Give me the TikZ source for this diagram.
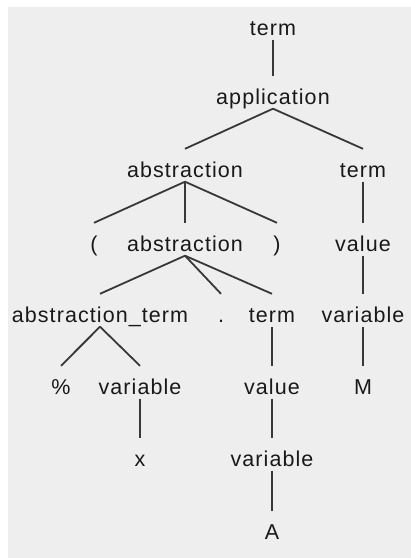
\documentclass[tikz,border=0pt]{standalone}
\usepackage{fontspec}
\setmainfont[LetterSpace=5]{Liberation Sans}
\begin{document}
\begin{tikzpicture}[x=1pt,y=-1pt,
  mot/.style={inner sep=0pt,anchor=base,text height=28pt,text depth=4.5pt,font=\fontsize{21.5}{26}\selectfont,text=black!90},
  branche/.style={draw=black!78,line width=1.8pt}]
\definecolor{fond_gris}{HTML}{EEEEEE}

\useasboundingbox (0,0) rectangle (411,558);
\fill[fond_gris] (8,7) rectangle (411,558);%le fond

\node[mot] (racine) at (273,35){term};
\node[mot] (appli) at (273,104){application};
\node[mot] (abstr) at (185,177){abstraction};
\node[mot] (term_d) at (363,177){term};
\node[mot] (par_g) at (94,251){(};
\node[mot] (abstr_int) at (185,251){abstraction};
\node[mot] (par_d) at (277,251){)};
\node[mot] (valeur_d) at (363,251){value};
\node[mot] (abstr_term) at (100,322){abstraction\_term};
\node[mot] (point) at (221,322){.};
\node[mot] (corps) at (272,322){term};
\node[mot] (var_d) at (363,322){variable};
\node[mot] (pourcent) at (61,394){\%};
\node[mot] (var_x) at (140,394){variable};
\node[mot] (valeur_c) at (272,394){value};
\node[mot] (lettre_m) at (363,394){M};
\node[mot] (lettre_x) at (140,466){x};
\node[mot] (var_c) at (272,466){variable};
\node[mot] (lettre_a) at (272,539){A};

\draw[branche] (racine.south) -- (appli.north);
\draw[branche] (appli.south) -- (abstr.north);
\draw[branche] (appli.south) -- (term_d.north);
\draw[branche] (abstr.south) -- (par_g.north);%les parentheses
\draw[branche] (abstr.south) -- (abstr_int.north);
\draw[branche] (abstr.south) -- (par_d.north);
\draw[branche] (term_d.south) -- (valeur_d.north);
\draw[branche] (valeur_d.south) -- (var_d.north);
\draw[branche] (abstr_int.south) -- (abstr_term.north);
\draw[branche] (abstr_int.south) -- (point.north);
\draw[branche] (abstr_int.south) -- (corps.north);
\draw[branche] (abstr_term.south) -- (pourcent.north);
\draw[branche] (abstr_term.south) -- (var_x.north);
\draw[branche] (var_x.south) -- (lettre_x.north);
\draw[branche] (corps.south) -- (valeur_c.north);
\draw[branche] (valeur_c.south) -- (var_c.north);
\draw[branche] (var_c.south) -- (lettre_a.north);
\draw[branche] (var_d.south) -- (lettre_m.north);

\end{tikzpicture}
\end{document}
